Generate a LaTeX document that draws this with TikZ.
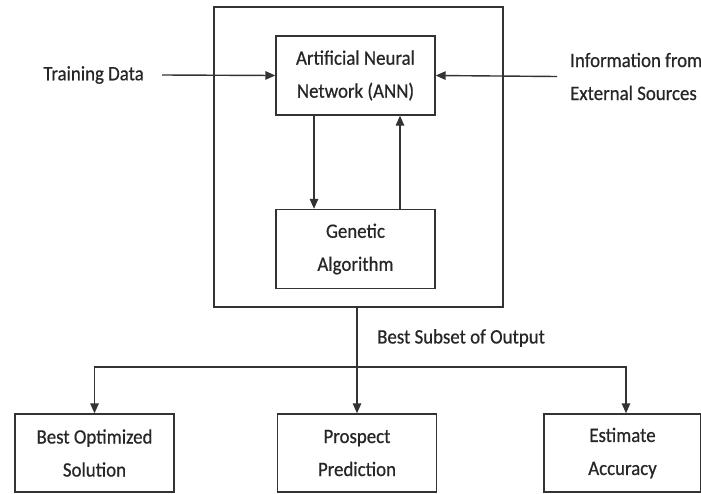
\documentclass[tikz,border=0pt]{standalone}
\usepackage{fontspec}
\setmainfont{Carlito}[FakeStretch=0.92,FakeBold=0.6]
\usetikzlibrary{arrows.meta}
\definecolor{ln}{HTML}{333333}
\definecolor{tx}{HTML}{262626}
\begin{document}
\begin{tikzpicture}[x=1pt,y=-1pt,
  every node/.style={text=tx,font=\fontsize{20.5}{33}\selectfont},
  box/.style={draw=ln,line width=1.4pt,rectangle,inner sep=0pt,minimum width=159pt,minimum height=79pt,align=center},
  lbl/.style={inner sep=0pt},
  arr/.style={draw=ln,line width=1.4pt,-{Triangle[length=10pt,width=8.5pt]}},
  ln/.style={draw=ln,line width=1.4pt}]
\useasboundingbox (0,0) rectangle (701,493);
\node[box,minimum width=289pt,minimum height=300pt] (sys) at (358.5,157) {};
\node[box] (ann) at (355.5,75.5) {Artificial Neural\\Network (ANN)};
\node[box] (ga) at (355.5,249) {Genetic\\Algorithm};
\node[lbl,anchor=east] (train) at (144,75) {Training Data};
\node[lbl,anchor=west,align=left] (ext) at (570,76.5) {Information from\\External Sources};
\draw[arr] ([xshift=18pt]train.east) -- (ann.west);
\draw[arr] ([xshift=-13pt]ext.west) -- (ann.east);
\draw[arr] ([xshift=-41.5pt]ann.south) -- ([xshift=-41.5pt]ga.north);
\draw[arr] ([xshift=44.5pt]ga.north) -- ([xshift=44.5pt]ann.south);
\node[box,minimum height=78pt] (bos) at (94.5,453) {Best Optimized\\Solution};
\node[box,minimum height=78pt] (pp) at (357,453) {Prospect\\Prediction};
\node[box,minimum width=157pt,minimum height=78pt] (ea) at (622.5,453) {Estimate\\Accuracy};
\coordinate (jn) at (357,367);
\node[lbl,anchor=west] (bso) at (377,338) {Best Subset of Output};
\draw[arr] ([xshift=-1.5pt]sys.south) -- (pp.north);
\draw[arr] (jn) -| (bos.north);
\draw[arr] (jn) -| ([xshift=3.5pt]ea.north);
\end{tikzpicture}
\end{document}
